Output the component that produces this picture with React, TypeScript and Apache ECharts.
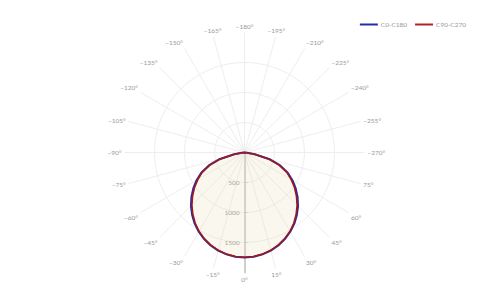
import React, { useEffect, useRef } from "react";
import * as echarts from "echarts";

// gamma angles (deg from nadir)
const gammaAngles = [0, 5, 10, 15, 20, 25, 30, 35, 40, 45, 50, 55, 60, 65, 70, 75, 80, 85, 90, 180];
// C0-C180 plane intensities (cd)
const c0Values = [1750, 1744, 1724, 1692, 1648, 1592, 1525, 1448, 1358, 1262, 1155, 1042, 922, 795, 632, 432, 175, 42, 0, 0];
const c180Values = [1750, 1744, 1724, 1692, 1648, 1592, 1525, 1448, 1358, 1262, 1155, 1042, 922, 795, 632, 432, 175, 42, 0, 0];
// C90-C270 plane intensities (cd)
const c90Values = [1747, 1740, 1720, 1688, 1642, 1584, 1515, 1434, 1340, 1240, 1130, 1017, 897, 775, 615, 420, 170, 40, 0, 18];
const c270Values = [1747, 1740, 1720, 1688, 1642, 1584, 1515, 1434, 1340, 1240, 1130, 1017, 897, 775, 615, 420, 170, 40, 0, 18];

const radialTicks = [500, 1000, 1500];
const seriesNames = ["C0-C180", "C90-C270"];

function buildCurve(right: number[], left: number[]) {
  const pts: number[][] = [];
  for (let i = gammaAngles.length - 1; i >= 1; i--) {
    pts.push([left[i], 360 - gammaAngles[i]]);
  }
  for (let i = 0; i < gammaAngles.length; i++) {
    pts.push([right[i], gammaAngles[i]]);
  }
  return pts;
}

const angleLabel = (v: number) => {
  if (v >= 360) return "";
  if (v < 90) return v + "°";
  return "\u2212" + (360 - v) + "°";
};

export default function App() {
  const ref = useRef<HTMLDivElement>(null);
  useEffect(() => {
    if (!ref.current) return;
    const chart = echarts.init(ref.current, null, { renderer: "svg" });
    const font = "Lato, 'DejaVu Sans', sans-serif";
    chart.setOption({
      animation: false,
      backgroundColor: "#fff",
      textStyle: { fontFamily: font },
      legend: {
        data: seriesNames,
        right: 19,
        top: 16,
        icon: "rect",
        itemWidth: 18,
        itemHeight: 2,
        itemGap: 8,
        textStyle: { color: "#999", fontSize: 6.5, fontFamily: font, padding: [0, 0, 0, -2] },
      },
      polar: { center: [244.5, 152.5], radius: [0, 120] },
      angleAxis: {
        type: "value",
        min: 0,
        max: 360,
        interval: 15,
        startAngle: 270,
        clockwise: false,
        axisLine: { show: false },
        axisTick: { show: false },
        axisLabel: {
          formatter: angleLabel,
          color: "#999",
          fontSize: 6.5,
          margin: 3,
          fontFamily: font,
        },
        splitLine: { show: true, lineStyle: { color: "#eee", width: 1 } },
      },
      radiusAxis: {
        type: "value",
        min: 0,
        max: 2000,
        interval: 500,
        axisLine: { show: true, lineStyle: { color: "#d2d0c6", width: 2 } },
        axisTick: { show: true, length: 3, customValues: radialTicks, lineStyle: { color: "#c8c6bc" } },
        axisLabel: {
          customValues: radialTicks,
          color: "#999",
          fontSize: 6.5,
          margin: -5,
          align: "right",
          verticalAlign: "middle",
          fontFamily: font,
          formatter: (v: number) => (radialTicks.indexOf(v) >= 0 ? String(v) : ""),
        },
        splitLine: {
          show: true,
          lineStyle: { color: ["#eee", "#eee", "#eee", "#eee", "rgba(0,0,0,0)"], width: 1 },
        },
      },
      series: [
        {
          name: seriesNames[0],
          type: "line",
          coordinateSystem: "polar",
          data: buildCurve(c0Values, c180Values),
          showSymbol: false,
          clip: false,
          lineStyle: { color: "#2a2aa8", width: 2 },
          itemStyle: { color: "#2a2aa8" },
          areaStyle: { color: "rgba(228,222,186,0.24)", opacity: 1 },
          z: 10,
        },
        {
          name: seriesNames[1],
          type: "line",
          coordinateSystem: "polar",
          data: buildCurve(c90Values, c270Values),
          showSymbol: false,
          clip: false,
          lineStyle: { color: "#9e1a1a", width: 1.6 },
          itemStyle: { color: "#b22222" },
          z: 11,
        },
      ],
    });
    return () => chart.dispose();
  }, []);
  return (
    <div
      ref={ref}
      style={{ position: "fixed", left: 0, top: 0, width: 490, height: 306 }}
    />
  );
}
